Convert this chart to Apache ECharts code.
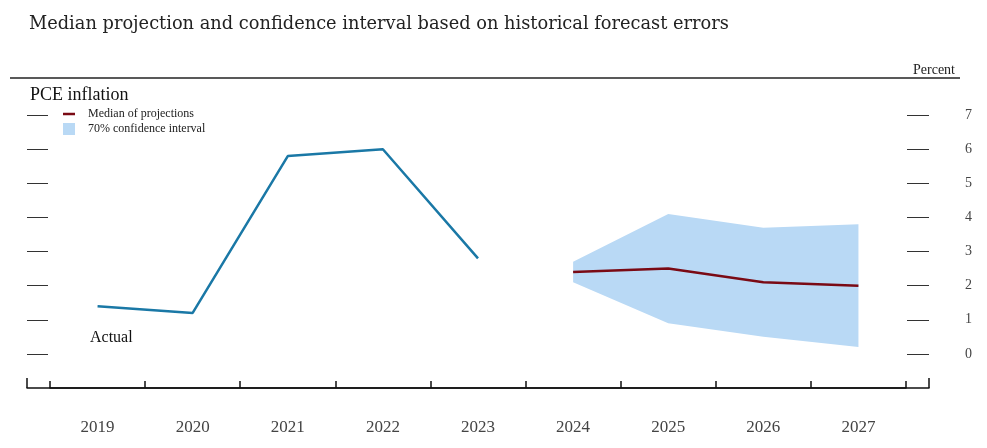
<!DOCTYPE html>
<html>
<head>
<meta charset="utf-8">
<script src="https://cdn.jsdelivr.net/npm/echarts@6/dist/echarts.min.js"></script>
<style>html,body{margin:0;padding:0;background:#fff;}#c{width:987px;height:448px;}</style>
</head>
<body>
<div id="c"></div>
<script>
var years = ['2019','2020','2021','2022','2023','2024','2025','2026','2027'];
var actual = [1.4, 1.2, 5.8, 6.0, 2.8, null, null, null, null];
var median = [null, null, null, null, null, 2.4, 2.5, 2.1, 2.0];
var bandLow = [null, null, null, null, null, 2.1, 0.9, 0.5, 0.2];
var bandHigh = [null, null, null, null, null, 2.7, 4.1, 3.7, 3.8];
var yTicks = [0, 1, 2, 3, 4, 5, 6, 7];

var bandSpan = bandHigh.map(function (h, i) { return h == null ? null : +(h - bandLow[i]).toFixed(2); });
var serif = 'Liberation Serif';

var chart = echarts.init(document.getElementById('c'), null, {renderer: 'canvas'});
chart.setOption({
  animation: false,
  backgroundColor: '#fff',
  title: {
    text: 'Median projection and confidence interval based on historical forecast errors',
    left: 24, top: 10,
    textStyle: {fontFamily: 'DejaVu Serif', fontSize: 17.8, fontWeight: 'normal', color: '#222'}
  },
  legend: {
    orient: 'vertical', left: 58, top: 103, itemGap: 3,
    itemWidth: 12, itemHeight: 12,
    textStyle: {fontFamily: serif, fontSize: 12, color: '#222', padding: [0,0,0,8]},
    data: [
      {name: 'Median of projections', icon: 'path://M0,0 L12,0 L12,2.5 L0,2.5 Z', itemStyle: {color: '#7a0a14'}},
      {name: '70% confidence interval', icon: 'rect', itemStyle: {color: '#b9d9f5'}}
    ]
  },
  grid: [
    {left: 50, right: 81, top: 81, bottom: 60},
    {left: 27, right: 58, top: 81, bottom: 60}
  ],
  xAxis: [
    {
      type: 'category', data: years, gridIndex: 0, boundaryGap: true, z: 5,
      axisLine: {show: true, onZero: false, lineStyle: {color: '#111', width: 1.5}},
      axisTick: {show: true, interval: 0, inside: true, length: 7, lineStyle: {color: '#111', width: 1.5}},
      axisLabel: {margin: 31, interval: 0, fontFamily: serif, fontSize: 17, color: '#444'}
    },
    {
      type: 'value', gridIndex: 1, min: 0, max: 1, interval: 1,
      axisLine: {onZero: false, lineStyle: {color: '#111', width: 1.5}},
      axisTick: {inside: true, length: 10, lineStyle: {color: '#111', width: 1.5}},
      axisLabel: {show: false}, splitLine: {show: false}
    }
  ],
  yAxis: [
    {
      type: 'value', gridIndex: 0, position: 'left', min: -1, max: 8, interval: 1, offset: 2,
      axisLine: {show: false},
      axisTick: {show: true, length: 21, customValues: yTicks, lineStyle: {color: '#333', width: 1}},
      axisLabel: {show: false}, splitLine: {show: false}
    },
    {
      type: 'value', gridIndex: 0, position: 'right', min: -1, max: 8, interval: 1, offset: 1,
      axisLine: {show: false},
      axisTick: {show: true, length: 22, customValues: yTicks, lineStyle: {color: '#333', width: 1}},
      axisLabel: {show: true, customValues: yTicks, margin: 58, fontFamily: serif, fontSize: 14, color: '#444'},
      splitLine: {show: false}
    },
    {type: 'value', gridIndex: 1, show: false, min: 0, max: 1}
  ],
  graphic: [
    {type: 'line', shape: {x1: 10, y1: 78, x2: 960, y2: 78}, style: {stroke: '#222', lineWidth: 1.5}},
    {type: 'text', right: 32, top: 63, style: {text: 'Percent', fontFamily: serif, fontSize: 14, fill: '#222'}},
    {type: 'text', left: 30, top: 86, style: {text: 'PCE inflation', fontFamily: serif, fontSize: 18, fill: '#111'}},
    {type: 'text', left: 90, top: 330, style: {text: 'Actual', fontFamily: serif, fontSize: 16, fill: '#111'}}
  ],
  series: [
    {
      name: 'bandBase', type: 'line', stack: 'band', data: bandLow, xAxisIndex: 0, yAxisIndex: 0,
      symbol: 'none', lineStyle: {opacity: 0}, silent: true, z: 1
    },
    {
      name: '70% confidence interval', type: 'line', stack: 'band', data: bandSpan, xAxisIndex: 0, yAxisIndex: 0,
      symbol: 'none', lineStyle: {opacity: 0}, itemStyle: {color: '#b9d9f5'},
      areaStyle: {color: '#b9d9f5', opacity: 1}, silent: true, z: 1
    },
    {
      name: 'Actual', type: 'line', data: actual, xAxisIndex: 0, yAxisIndex: 0,
      symbol: 'none', lineStyle: {color: '#1a78a6', width: 2.5}, z: 3
    },
    {
      name: 'Median of projections', type: 'line', data: median, xAxisIndex: 0, yAxisIndex: 0,
      symbol: 'none', itemStyle: {color: '#7a0a14'}, lineStyle: {color: '#7a0a14', width: 2.5}, z: 4
    }
  ]
});
</script>
</body>
</html>
